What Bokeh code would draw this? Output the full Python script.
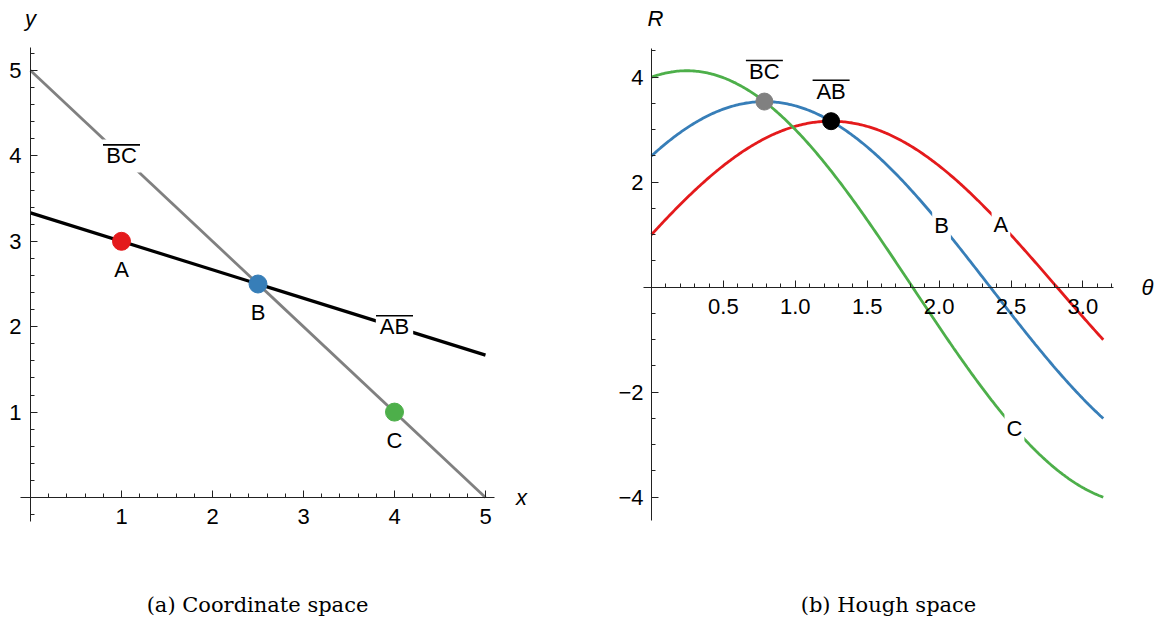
import numpy as np
from bokeh.plotting import figure
from bokeh.layouts import row
from bokeh.models import LinearAxis, FixedTicker
from bokeh.core.properties import value
from bokeh.embed import file_html
from bokeh.resources import INLINE

# ---------------- data ----------------
point_names = ["A", "B", "C"]
point_x = [1.0, 2.5, 4.0]
point_y = [3.0, 2.5, 1.0]
point_colors = ["#E41A1C", "#377EB8", "#4DAF4A"]

line_names = ["AB", "BC"]
line_x0 = [0.0, 0.0]
line_y0 = [3.333, 5.0]
line_x1 = [5.0, 5.0]
line_y1 = [1.667, 0.0]
line_colors = ["black", "#808080"]
line_label_x = [4.0, 1.0]

x_ticks = [1, 2, 3, 4, 5]
y_ticks = [1, 2, 3, 4, 5]
theta_ticks = [0.5, 1.0, 1.5, 2.0, 2.5, 3.0]
theta_tick_labels = ["0.5", "1.0", "1.5", "2.0", "2.5", "3.0"]
R_ticks = [-4, -2, 2, 4]
R_tick_labels = ["\u22124", "\u22122", "2", "4"]

hough_names = ["BC", "AB"]
hough_theta = [0.785, 1.249]
hough_R = [3.536, 3.162]
hough_colors = ["#808080", "black"]

curve_label_theta = [2.43, 2.017, 2.524]

captions = ["(a) Coordinate space", "(b) Hough space"]

SANS = value("Liberation Sans")
SERIF = value("DejaVu Serif")
FS = "22px"
OVER_W, OVER_UP = 37, 11   # overline bar width / lift above label centre (px)


def style_axis(ax, standoff):
    ax.axis_line_color = "#222222"
    ax.axis_line_width = 1
    ax.major_tick_line_color = "#222222"
    ax.minor_tick_line_color = "#222222"
    ax.major_tick_in = 7
    ax.major_tick_out = 0
    ax.minor_tick_in = 4
    ax.minor_tick_out = 0
    ax.major_label_standoff = standoff
    ax.major_label_text_font = "Liberation Sans"
    ax.major_label_text_font_size = FS
    ax.major_label_text_color = "black"


# ---------------- left: coordinate space ----------------
W1, W2, H = 578, 579, 622
sx1, x01 = 91.0, 30.0
sy1, y01 = 85.4, 497.0

p1 = figure(width=W1, height=H,
            x_range=(-x01 / sx1, (W1 - x01) / sx1),
            y_range=((y01 - H) / sy1, y01 / sy1),
            output_backend="svg", toolbar_location=None,
            x_axis_location=None, y_axis_location=None,
            min_border=0, outline_line_color=None)
p1.grid.visible = False

xa = LinearAxis(fixed_location=0, bounds=(-0.11, 5.1),
                ticker=FixedTicker(ticks=x_ticks,
                                   minor_ticks=[round(0.2 * i, 1) for i in range(1, 26)]))
style_axis(xa, 11)
p1.add_layout(xa, "below")
ya = LinearAxis(fixed_location=0, bounds=(-0.28, 5.27),
                ticker=FixedTicker(ticks=y_ticks,
                                   minor_ticks=[round(0.2 * i, 1) for i in range(-1, 27)]))
style_axis(ya, 9)
p1.add_layout(ya, "left")

widths = [3.2, 2.8]
p1.segment(x0=line_x0, y0=line_y0, x1=line_x1, y1=line_y1,
           line_color=line_colors, line_width=widths)

lab_y = [line_y0[i] + (line_y1[i] - line_y0[i]) * (line_label_x[i] - line_x0[i]) / (line_x1[i] - line_x0[i])
         for i in range(2)]
p1.text(x=line_label_x, y=lab_y, text=line_names, text_align="center",
        text_baseline="middle", text_font=SANS, text_font_size=FS,
        text_color="black", background_fill_color="white", padding=4)
p1.rect(x=line_label_x, y=[v + OVER_UP / sy1 for v in lab_y], width=OVER_W, height=1.6,
        width_units="screen", height_units="screen", color="black", line_width=0)

p1.scatter(point_x, point_y, size=18, color=point_colors)
p1.text(x=point_x, y=point_y, text=point_names, y_offset=28, text_align="center",
        text_baseline="middle", text_font=SANS, text_font_size=FS, text_color="black")

p1.text(x=[0.0], y=[(y01 - 18) / sy1], text=["y"], text_align="center", text_baseline="middle",
        text_font=SANS, text_font_style="italic", text_font_size=FS)
p1.text(x=[(521 - x01) / sx1], y=[0.0], text=["x"], text_align="center", text_baseline="middle",
        text_font=SANS, text_font_style="italic", text_font_size=FS)
p1.text(x=[(257 - x01) / sx1], y=[(y01 - 604) / sy1], text=[captions[0]], text_align="center",
        text_baseline="middle", text_font=SERIF, text_font_size="21px")

# ---------------- right: Hough space ----------------
sx2, x02 = 143.8, 651.0 - W1
sy2, y02 = 52.5, 286.7

p2 = figure(width=W2, height=H,
            x_range=(-x02 / sx2, (W2 - x02) / sx2),
            y_range=((y02 - H) / sy2, y02 / sy2),
            output_backend="svg", toolbar_location=None,
            x_axis_location=None, y_axis_location=None,
            min_border=0, outline_line_color=None)
p2.grid.visible = False

ta = LinearAxis(fixed_location=0, bounds=(-0.056, 3.21),
                ticker=FixedTicker(ticks=theta_ticks,
                                   minor_ticks=[round(0.1 * i, 1) for i in range(1, 33)]),
                major_label_overrides={t: s for t, s in zip(theta_ticks, theta_tick_labels)})
style_axis(ta, 12)
p2.add_layout(ta, "below")
ra = LinearAxis(fixed_location=0, bounds=(-4.45, 4.55),
                ticker=FixedTicker(ticks=R_ticks,
                                   minor_ticks=[0.5 * i for i in range(-8, 10)]),
                major_label_overrides={t: s for t, s in zip(R_ticks, R_tick_labels)})
style_axis(ra, 8)
p2.add_layout(ra, "left")

theta = np.linspace(0, np.pi, 300)
for px, py, c in zip(point_x, point_y, point_colors):
    p2.line(theta, px * np.cos(theta) + py * np.sin(theta), line_color=c, line_width=2.8)

lab_R = [point_x[i] * np.cos(curve_label_theta[i]) + point_y[i] * np.sin(curve_label_theta[i])
         for i in range(3)]
p2.text(x=curve_label_theta, y=lab_R, text=point_names, text_align="center",
        text_baseline="middle", text_font=SANS, text_font_size=FS,
        text_color="black", background_fill_color="white", padding=2)

p2.scatter(hough_theta, hough_R, size=17, color=hough_colors)
p2.text(x=hough_theta, y=hough_R, text=hough_names, y_offset=-30, text_align="center",
        text_baseline="middle", text_font=SANS, text_font_size=FS, text_color="black")
p2.rect(x=hough_theta, y=[v + (30 + OVER_UP) / sy2 for v in hough_R], width=OVER_W, height=1.6,
        width_units="screen", height_units="screen", color="black", line_width=0)

p2.text(x=[(655 - W1 - x02) / sx2], y=[(y02 - 18) / sy2], text=["R"], text_align="center",
        text_baseline="middle", text_font=SANS, text_font_style="italic", text_font_size=FS)
p2.text(x=[(1147 - W1 - x02) / sx2], y=[0.0], text=["\u03b8"], text_align="center",
        text_baseline="middle", text_font=SANS, text_font_style="italic", text_font_size=FS)
p2.text(x=[(888 - W1 - x02) / sx2], y=[(y02 - 604) / sy2], text=[captions[1]], text_align="center",
        text_baseline="middle", text_font=SERIF, text_font_size="21px")

layout = row(p1, p2, spacing=0)
open("out.html", "w").write(file_html(layout, INLINE))
